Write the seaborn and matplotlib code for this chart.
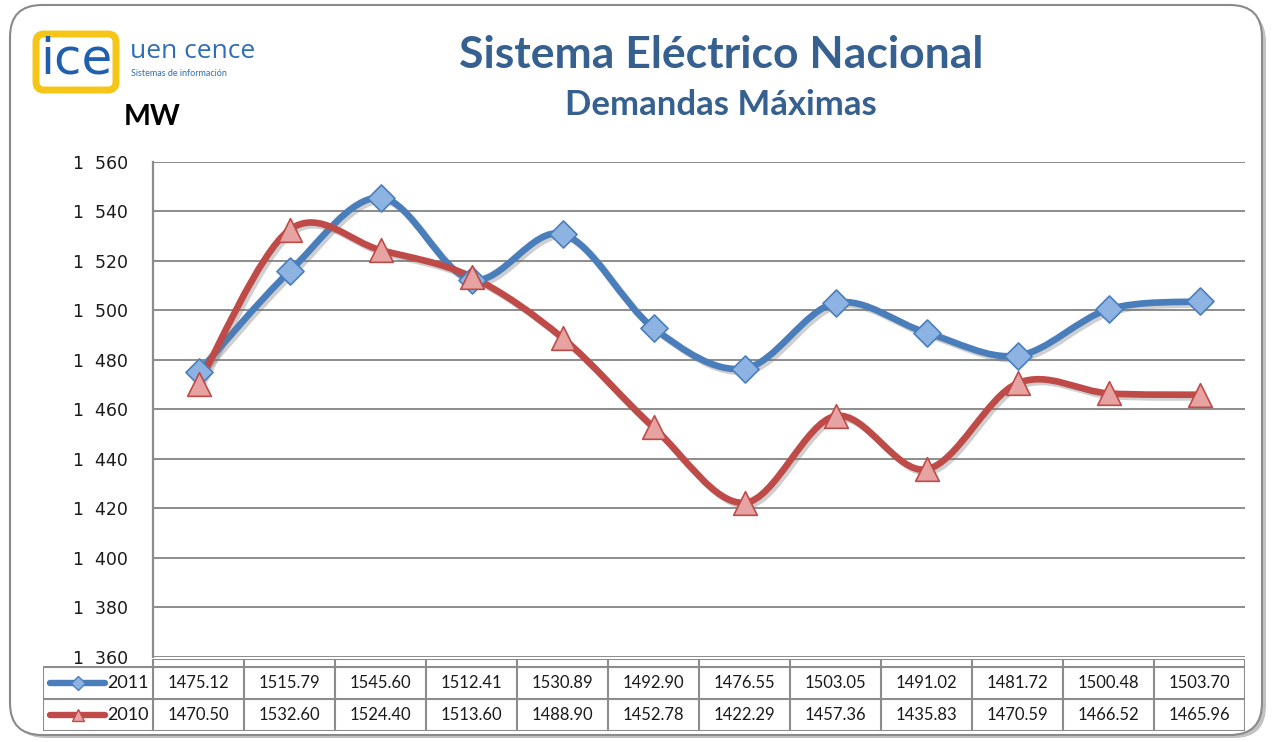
import numpy as np
import pandas as pd
import matplotlib
matplotlib.use('Agg')
import matplotlib.pyplot as plt
import seaborn as sns
from matplotlib.path import Path
from matplotlib.patches import PathPatch, FancyBboxPatch
import matplotlib.patheffects as pe

demand_2011 = [1475.12, 1515.79, 1545.60, 1512.41, 1530.89, 1492.90,
               1476.55, 1503.05, 1491.02, 1481.72, 1500.48, 1503.70]
demand_2010 = [1470.50, 1532.60, 1524.40, 1513.60, 1488.90, 1452.78,
               1422.29, 1457.36, 1435.83, 1470.59, 1466.52, 1465.96]
years = ['2011', '2010']
y_ticks = list(range(1360, 1561, 20))
y_labels = ['1  %03d' % (v - 1000) for v in y_ticks]

n = len(demand_2011)
df = pd.DataFrame({'mes': list(range(n)) * 2,
                   'mw': demand_2011 + demand_2010,
                   'year': ['2011'] * n + ['2010'] * n})

blue, blue_face = '#4A7EBB', '#8DB3E2'
red, red_face = '#BE4B48', '#E6A3A1'
grid_c = '#8C8C8C'
title_c = '#35608F'

sns.set_theme(style='white')
plt.rcParams['font.family'] = ['Lato', 'DejaVu Sans']

W, H = 1278, 742
fig = plt.figure(figsize=(W / 100, H / 100), dpi=100)

# background frame (pixel coords)
bg = fig.add_axes([0, 0, 1, 1], zorder=-5)
bg.set_xlim(0, W)
bg.set_ylim(H, 0)
bg.axis('off')
shadow = FancyBboxPatch((14, 10), W - 26, H - 14, boxstyle='round,pad=0,rounding_size=32',
                        fc='#9a9a9a', ec='none', alpha=0.6)
bg.add_patch(shadow)
frame = FancyBboxPatch((10, 5), W - 26, H - 12, boxstyle='round,pad=0,rounding_size=32',
                       fc='white', ec='#8a8a8a', lw=1.5)
bg.add_patch(frame)

# logo
logo = FancyBboxPatch((36, 34), 80, 56, boxstyle='round,pad=0,rounding_size=8',
                      fc='white', ec='#F5C518', lw=5)
bg.add_patch(logo)
bg.text(76, 60, 'ice', color='#1F5FAE', fontsize=36, ha='center', va='center',
        family=['DejaVu Sans'])
bg.text(130, 52, 'uen cence', color='#2F6DB5', fontsize=19, ha='left', va='center',
        family=['Open Sans', 'DejaVu Sans'])
bg.text(131, 74, 'Sistemas de información', color='#2F6DB5', fontsize=6.5,
        ha='left', va='center')

# titles
bg.text(721, 55, 'Sistema Eléctrico Nacional', color=title_c, fontsize=32,
        fontweight='bold', ha='center', va='center')
bg.text(721, 105, 'Demandas Máximas', color=title_c, fontsize=25,
        fontweight='bold', ha='center', va='center')
bg.text(152, 117, 'MW', color='black', fontsize=20.5, fontweight='bold',
        ha='center', va='center')

# main chart
L, R, T, B = 153, 1245, 162, 657
ax = fig.add_axes([L / W, 1 - B / H, (R - L) / W, (B - T) / H])
ax.set_xlim(-0.5, n - 0.5)
ax.set_ylim(1360, 1560)
ax.set_yticks(y_ticks)
ax.set_yticklabels(y_labels, fontsize=12.5, color='#1a1a1a', family=['DejaVu Sans'])
ax.set_xticks([])
ax.tick_params(axis='y', length=0, pad=18)
ax.grid(axis='y', color=grid_c, lw=1.4)
for s in ['top', 'right', 'bottom']:
    ax.spines[s].set_visible(False)
ax.spines['left'].set_color(grid_c)
ax.spines['left'].set_linewidth(1.6)


def smooth_path(xs, ys):
    # Excel-like smoothed line (Catmull-Rom as cubic Bezier)
    pts = np.column_stack([xs, ys]).astype(float)
    m = len(pts)
    verts = [pts[0]]
    codes = [Path.MOVETO]
    for i in range(m - 1):
        p0 = pts[i - 1] if i > 0 else pts[i]
        p1, p2 = pts[i], pts[i + 1]
        p3 = pts[i + 2] if i + 2 < m else pts[i + 1]
        verts += [p1 + (p2 - p0) / 6, p2 - (p3 - p1) / 6, p2]
        codes += [Path.CURVE4] * 3
    return Path(verts, codes)


shadow_fx = [pe.SimpleLineShadow(offset=(2, -2), shadow_color='#777777', alpha=0.35), pe.Normal()]
for yr, col, face, mk, sz in [('2011', blue, blue_face, 'D', 190),
                              ('2010', red, red_face, '^', 290)]:
    sub = df[df['year'] == yr]
    patch = PathPatch(smooth_path(sub['mes'], sub['mw']), fc='none', ec=col, lw=4.8,
                      capstyle='round', joinstyle='round', zorder=3, path_effects=shadow_fx)
    ax.add_patch(patch)
    sns.scatterplot(data=sub, x='mes', y='mw', marker=mk, s=sz, color=face,
                    edgecolor=col, linewidth=1.2, ax=ax, zorder=4, legend=False)
ax.set_xlabel('')
ax.set_ylabel('')
ax.set_xticks([])

# data table under the chart
TT, TB, TL = 659, 731, 43
tax = fig.add_axes([TL / W, 1 - TB / H, (R - TL) / W, (TB - TT) / H])
unit = (R - L) / n
xl = -0.5 - (L - TL) / unit
tax.set_xlim(xl, n - 0.5)
tax.set_ylim(TB - TT, 0)
tax.axis('off')
hdr, r1, r2 = 8, 40, 72
lk = dict(color=grid_c, lw=1.5, solid_capstyle='butt')
tax.plot([-0.5, n - 0.5], [0, 0], **lk)
for yy in [hdr, r1, r2]:
    tax.plot([xl, n - 0.5], [yy, yy], **lk)
tax.plot([xl, xl], [hdr, r2], **lk)
for k in range(n + 1):
    tax.plot([k - 0.5, k - 0.5], [0, r2], **lk)

for row_y, vals in [((hdr + r1) / 2, demand_2011), ((r1 + r2) / 2, demand_2010)]:
    for i, v in enumerate(vals):
        tax.text(i, row_y, '%.2f' % v, ha='center', va='center', fontsize=12, color='#1a1a1a')

# legend keys in the table
for row_y, yr, col, face, mk, ms in [((hdr + r1) / 2, '2011', blue, blue_face, 'D', 7),
                                     ((r1 + r2) / 2, '2010', red, red_face, '^', 9)]:
    x0 = xl + 7 / unit
    x1 = xl + 62 / unit
    tax.plot([x0, x1], [row_y, row_y], color=col, lw=4.6, solid_capstyle='round')
    tax.plot([(x0 + x1) / 2], [row_y], marker=mk, ms=ms, mfc=face, mec=col, mew=1)
    tax.text(x1 + 2 / unit, row_y, yr, ha='left', va='center', fontsize=13, color='#1a1a1a')

fig.savefig('out.png', dpi=100)
